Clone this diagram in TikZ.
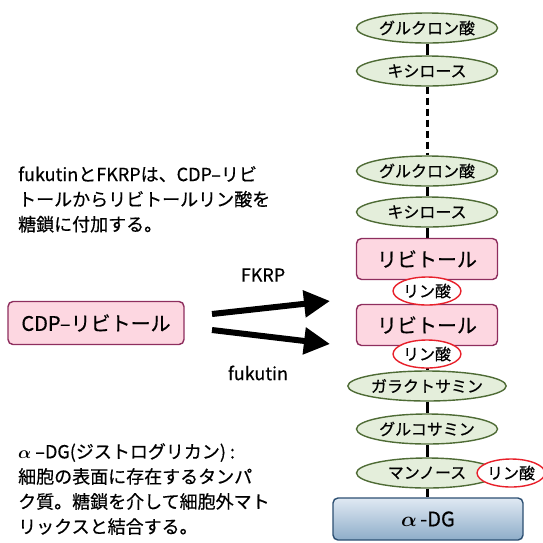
\documentclass[tikz,border=0pt]{standalone}
\usepackage{bm}
\usepackage{fontspec}
\setmainfont{Noto Sans CJK JP}[FakeBold=0.5]
\usetikzlibrary{shapes.geometric,arrows.meta,backgrounds}
\definecolor{sugarfill}{HTML}{E4EEDB}
\definecolor{sugarline}{HTML}{4E6B35}
\definecolor{ribfill}{HTML}{FDD7E1}
\definecolor{ribline}{HTML}{8E2E5E}
\definecolor{phosline}{HTML}{E8202A}
\definecolor{adgtop}{HTML}{E0E9F3}
\definecolor{adgbot}{HTML}{8EADC9}
\definecolor{adgline}{HTML}{2C4F72}
\begin{document}
\begin{tikzpicture}[x=1pt,y=-1pt,
  sugar/.style={ellipse, draw=sugarline, fill=sugarfill, line width=1.4pt, minimum width=141pt, minimum height=30pt, inner sep=0pt, font=\fontsize{16}{16}\selectfont},
  ribi/.style={rectangle, rounded corners=5pt, draw=ribline, fill=ribfill, line width=1.4pt, minimum width=141pt, minimum height=41pt, inner sep=0pt, font=\fontsize{20}{20}\selectfont},
  phos/.style={ellipse, draw=phosline, fill=white, line width=1.4pt, minimum width=64pt, minimum height=28pt, inner sep=0pt, font=\fontsize{16}{16}\selectfont},
  link/.style={draw=black, line width=3pt},
  dlink/.style={draw=black, line width=3pt, dash pattern=on 7pt off 4pt},
  bigarrow/.style={draw=black, line width=6pt, -{Triangle[length=26pt,width=26pt]}},
  note/.style={anchor=north west, align=left, inner sep=0pt, font=\fontsize{18}{25}\selectfont}
]
\useasboundingbox (0,0) rectangle (543,542);

\node[sugar] (g1) at (427,28) {グルクロン酸};
\node[sugar] (x1) at (427,71) {キシロース};
\node[sugar] (g2) at (427,171) {グルクロン酸};
\node[sugar] (x2) at (427,212) {キシロース};
\node[ribi] (r1) at (427,259) {リビトール};
\node[ribi] (r2) at (427,325) {リビトール};
\node[phos] (p1) at (427,291) {リン酸};
\node[phos] (p2) at (427,354) {リン酸};
\node[sugar] (gal) at (427,386) {ガラクトサミン};
\node[sugar] (glc) at (427,429) {グルコサミン};
\node[sugar] (man) at (427,473) {マンノース};
\node[phos] (p3) at (511,473) {リン酸};
\node[rectangle, rounded corners=5pt, draw=adgline, line width=1.4pt, top color=adgtop, bottom color=adgbot, minimum width=190pt, minimum height=42pt, inner sep=0pt, font=\fontsize{20}{20}\selectfont] (adg) at (428,519) {$\bm{\alpha}$\,-DG};

\begin{scope}[on background layer]
\draw[link] (g1) -- (x1);
\draw[dlink] (x1) -- (g2);
\draw[link] (g2) -- (x2);
\draw[link] (x2) -- (r1);
\draw[link] (r1) -- (r2);
\draw[link] (r2) -- (gal);
\draw[link] (gal) -- (glc);
\draw[link] (glc) -- (man);
\draw[link] (man.south) -- (man.south |- adg.north);
\end{scope}

\node[ribi, minimum width=176pt, minimum height=43pt, font=\fontsize{20}{20}\selectfont] (cdp) at (96,323) {CDP‒リビトール};

\coordinate (a1s) at (212,314);
\coordinate (a1e) at (330,301);
\coordinate (a2s) at (212,330);
\coordinate (a2e) at (330,344);
\draw[bigarrow] (a1s) -- (a1e);
\draw[bigarrow] (a2s) -- (a2e);

\node[font=\fontsize{18}{18}\selectfont] (fkrp) at (263,275) {FKRP};
\node[font=\fontsize{18}{18}\selectfont] (fuku) at (258,373) {fukutin};

\node[note] (t1) at (18,166) {fukutinとFKRPは、CDP‒リビ\\トールからリビトールリン酸を\\糖鎖に付加する。};
\node[note] (t2) at (18,443) {$\bm{\alpha}$ ‒DG(ジストログリカン) :\\細胞の表面に存在するタンパ\\ク質。糖鎖を介して細胞外マト\\リックスと結合する。};
\end{tikzpicture}
\end{document}
